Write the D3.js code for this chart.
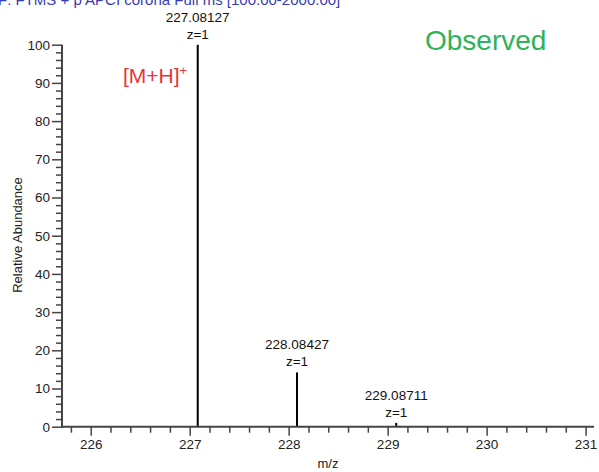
<!DOCTYPE html>
<html>
<head>
<meta charset="utf-8">
<style>
  body { margin: 0; background: #fff; }
  svg { display: block; font-family: "Liberation Sans", Arial, sans-serif; }
</style>
</head>
<body>
<div id="chart"></div>
<script src="https://d3js.org/d3.v7.min.js"></script>
<script>
// peak data
var peakMz = [227.08127, 228.08427, 229.08711];
var peakAbundance = [100, 14.2, 1.0];
var peakCharge = ["z=1", "z=1", "z=1"];
var xTicks = [226, 227, 228, 229, 230, 231];
var yTicks = [0, 10, 20, 30, 40, 50, 60, 70, 80, 90, 100];

var width = 599, height = 472;

var svg = d3.select("#chart").append("svg")
  .attr("width", width)
  .attr("height", height);

var x = d3.scaleLinear().domain([225.71, 231.085]).range([62, 594]);
var y = d3.scaleLinear().domain([0, 100]).range([426.7, 44.7]);

// title, cut off at the top edge like the original
svg.append("text")
  .attr("x", -2).attr("y", 5)
  .attr("fill", "#3a3ab4")
  .style("font-size", "15px")
  .text("F: FTMS + p APCI corona Full ms [100.00-2000.00]");

// peaks
svg.selectAll("line.peak")
  .data(peakMz)
  .enter().append("line")
  .attr("class", "peak")
  .attr("x1", function(d) { return x(d); })
  .attr("x2", function(d) { return x(d); })
  .attr("y1", y(0))
  .attr("y2", function(d, i) { return y(peakAbundance[i]); })
  .attr("stroke", "#000")
  .attr("stroke-width", 2);

// peak labels
var lab = svg.selectAll("g.plabel")
  .data(peakMz)
  .enter().append("g")
  .attr("class", "plabel")
  .attr("transform", function(d, i) { return "translate(" + x(d) + "," + y(peakAbundance[i]) + ")"; });
lab.append("text")
  .attr("y", -23)
  .attr("text-anchor", "middle")
  .style("font-size", "13.5px")
  .attr("fill", "#111")
  .text(function(d) { return d.toFixed(5); });
lab.append("text")
  .attr("y", -6)
  .attr("text-anchor", "middle")
  .style("font-size", "13.5px")
  .attr("fill", "#111")
  .text(function(d, i) { return peakCharge[i]; });

// y axis: major and minor ticks
svg.append("g")
  .attr("transform", "translate(62,0)")
  .call(d3.axisLeft(y).tickValues(yTicks).tickSize(10).tickPadding(2));
svg.append("g")
  .attr("transform", "translate(62,0)")
  .call(d3.axisLeft(y).tickValues(d3.range(0, 101, 2).filter(function(v) { return v % 10 !== 0; }))
    .tickSize(6).tickFormat(""));

// x axis: major and minor ticks
svg.append("g")
  .attr("transform", "translate(0," + y(0) + ")")
  .call(d3.axisBottom(x).tickValues(xTicks).tickSize(9).tickPadding(4).tickFormat(d3.format("d")));
svg.append("g")
  .attr("transform", "translate(0," + y(0) + ")")
  .call(d3.axisBottom(x).tickValues(d3.range(225.8, 231.05, 0.2).filter(function(v) { return Math.abs(v - Math.round(v)) > 0.05; }))
    .tickSize(6).tickFormat(""));

svg.selectAll(".tick line").attr("stroke", "#444").attr("stroke-width", 1.5);
svg.selectAll(".tick text").style("font-size", "13.5px").attr("fill", "#222").style("font-family", "'Liberation Sans', Arial, sans-serif");

// plain axis lines without the outer ticks
svg.selectAll(".domain").remove();
svg.append("line").attr("x1", 62).attr("x2", 62).attr("y1", y(100)).attr("y2", y(0) + 1)
  .attr("stroke", "#444").attr("stroke-width", 2);
svg.append("line").attr("x1", 61).attr("x2", 594).attr("y1", y(0)).attr("y2", y(0))
  .attr("stroke", "#444").attr("stroke-width", 2);

// axis titles
svg.append("text")
  .attr("transform", "translate(22,235) rotate(-90)")
  .attr("text-anchor", "middle")
  .style("font-size", "13px")
  .attr("fill", "#222")
  .text("Relative Abundance");
svg.append("text")
  .attr("x", 328).attr("y", 468)
  .attr("text-anchor", "middle")
  .style("font-size", "13px")
  .attr("fill", "#222")
  .text("m/z");

// annotations
svg.append("text")
  .attr("x", 425).attr("y", 50)
  .attr("fill", "#2db35a")
  .style("font-size", "28px")
  .text("Observed");
var ion = svg.append("text")
  .attr("x", 123).attr("y", 83)
  .attr("fill", "#ea3339")
  .style("font-size", "21px")
  .text("[M+H]");
ion.append("tspan")
  .attr("dy", -8)
  .style("font-size", "13px")
  .text("+");
</script>
</body>
</html>
